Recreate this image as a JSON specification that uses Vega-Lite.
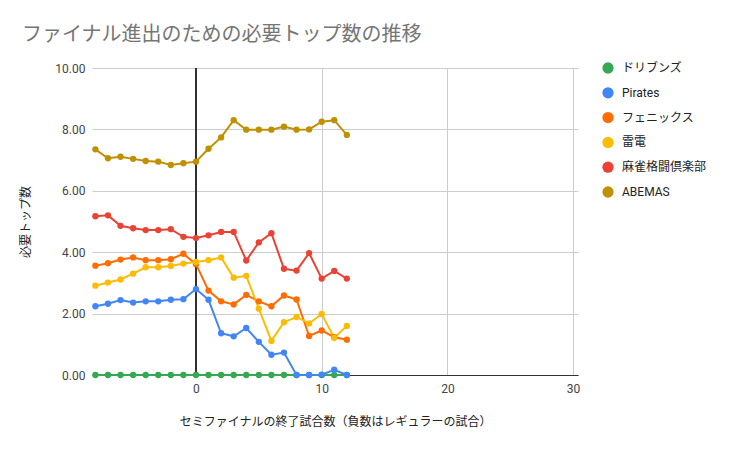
{
  "$schema": "https://vega.github.io/schema/vega-lite/v6.json",
  "autosize": {"type": "none"},
  "padding": {"left": 92, "top": 68, "right": 151, "bottom": 75},
  "width": 486,
  "height": 307,
  "background": "white",
  "config": {
    "font": "Roboto, 'Noto Sans CJK JP', sans-serif",
    "view": {"stroke": null},
    "axisX": {"grid": true, "gridColor": "#cccccc"}
  },
  "title": {
    "text": "ファイナル進出のための必要トップ数の推移",
    "anchor": "start",
    "frame": "group",
    "dx": -70,
    "offset": 17,
    "fontSize": 20,
    "fontWeight": "normal",
    "color": "#757575",
    "font": "Roboto, 'Noto Sans CJK JP', sans-serif"
  },
  "data": {
    "values": [
      {"x": -8, "t": "ドリブンズ", "v": 0}, {"x": -7, "t": "ドリブンズ", "v": 0}, {"x": -6, "t": "ドリブンズ", "v": 0}, {"x": -5, "t": "ドリブンズ", "v": 0}, {"x": -4, "t": "ドリブンズ", "v": 0}, {"x": -3, "t": "ドリブンズ", "v": 0}, {"x": -2, "t": "ドリブンズ", "v": 0}, {"x": -1, "t": "ドリブンズ", "v": 0}, {"x": 0, "t": "ドリブンズ", "v": 0}, {"x": 1, "t": "ドリブンズ", "v": 0}, {"x": 2, "t": "ドリブンズ", "v": 0}, {"x": 3, "t": "ドリブンズ", "v": 0}, {"x": 4, "t": "ドリブンズ", "v": 0}, {"x": 5, "t": "ドリブンズ", "v": 0}, {"x": 6, "t": "ドリブンズ", "v": 0}, {"x": 7, "t": "ドリブンズ", "v": 0}, {"x": 8, "t": "ドリブンズ", "v": 0}, {"x": 9, "t": "ドリブンズ", "v": 0}, {"x": 10, "t": "ドリブンズ", "v": 0}, {"x": 11, "t": "ドリブンズ", "v": 0}, {"x": 12, "t": "ドリブンズ", "v": 0},
      {"x": -8, "t": "Pirates", "v": 2.24}, {"x": -7, "t": "Pirates", "v": 2.32}, {"x": -6, "t": "Pirates", "v": 2.44}, {"x": -5, "t": "Pirates", "v": 2.36}, {"x": -4, "t": "Pirates", "v": 2.40}, {"x": -3, "t": "Pirates", "v": 2.40}, {"x": -2, "t": "Pirates", "v": 2.45}, {"x": -1, "t": "Pirates", "v": 2.47}, {"x": 0, "t": "Pirates", "v": 2.80}, {"x": 1, "t": "Pirates", "v": 2.45}, {"x": 2, "t": "Pirates", "v": 1.36}, {"x": 3, "t": "Pirates", "v": 1.26}, {"x": 4, "t": "Pirates", "v": 1.53}, {"x": 5, "t": "Pirates", "v": 1.08}, {"x": 6, "t": "Pirates", "v": 0.66}, {"x": 7, "t": "Pirates", "v": 0.73}, {"x": 8, "t": "Pirates", "v": 0}, {"x": 9, "t": "Pirates", "v": 0}, {"x": 10, "t": "Pirates", "v": 0.01}, {"x": 11, "t": "Pirates", "v": 0.17}, {"x": 12, "t": "Pirates", "v": 0},
      {"x": -8, "t": "フェニックス", "v": 3.56}, {"x": -7, "t": "フェニックス", "v": 3.64}, {"x": -6, "t": "フェニックス", "v": 3.76}, {"x": -5, "t": "フェニックス", "v": 3.83}, {"x": -4, "t": "フェニックス", "v": 3.74}, {"x": -3, "t": "フェニックス", "v": 3.74}, {"x": -2, "t": "フェニックス", "v": 3.77}, {"x": -1, "t": "フェニックス", "v": 3.95}, {"x": 0, "t": "フェニックス", "v": 3.61}, {"x": 1, "t": "フェニックス", "v": 2.75}, {"x": 2, "t": "フェニックス", "v": 2.40}, {"x": 3, "t": "フェニックス", "v": 2.30}, {"x": 4, "t": "フェニックス", "v": 2.61}, {"x": 5, "t": "フェニックス", "v": 2.40}, {"x": 6, "t": "フェニックス", "v": 2.24}, {"x": 7, "t": "フェニックス", "v": 2.59}, {"x": 8, "t": "フェニックス", "v": 2.46}, {"x": 9, "t": "フェニックス", "v": 1.27}, {"x": 10, "t": "フェニックス", "v": 1.45}, {"x": 11, "t": "フェニックス", "v": 1.23}, {"x": 12, "t": "フェニックス", "v": 1.15},
      {"x": -8, "t": "雷電", "v": 2.91}, {"x": -7, "t": "雷電", "v": 3.01}, {"x": -6, "t": "雷電", "v": 3.11}, {"x": -5, "t": "雷電", "v": 3.30}, {"x": -4, "t": "雷電", "v": 3.51}, {"x": -3, "t": "雷電", "v": 3.51}, {"x": -2, "t": "雷電", "v": 3.55}, {"x": -1, "t": "雷電", "v": 3.63}, {"x": 0, "t": "雷電", "v": 3.68}, {"x": 1, "t": "雷電", "v": 3.74}, {"x": 2, "t": "雷電", "v": 3.83}, {"x": 3, "t": "雷電", "v": 3.17}, {"x": 4, "t": "雷電", "v": 3.23}, {"x": 5, "t": "雷電", "v": 2.16}, {"x": 6, "t": "雷電", "v": 1.11}, {"x": 7, "t": "雷電", "v": 1.72}, {"x": 8, "t": "雷電", "v": 1.89}, {"x": 9, "t": "雷電", "v": 1.68}, {"x": 10, "t": "雷電", "v": 1.99}, {"x": 11, "t": "雷電", "v": 1.21}, {"x": 12, "t": "雷電", "v": 1.60},
      {"x": -8, "t": "麻雀格闘倶楽部", "v": 5.17}, {"x": -7, "t": "麻雀格闘倶楽部", "v": 5.20}, {"x": -6, "t": "麻雀格闘倶楽部", "v": 4.86}, {"x": -5, "t": "麻雀格闘倶楽部", "v": 4.78}, {"x": -4, "t": "麻雀格闘倶楽部", "v": 4.72}, {"x": -3, "t": "麻雀格闘倶楽部", "v": 4.72}, {"x": -2, "t": "麻雀格闘倶楽部", "v": 4.75}, {"x": -1, "t": "麻雀格闘倶楽部", "v": 4.50}, {"x": 0, "t": "麻雀格闘倶楽部", "v": 4.46}, {"x": 1, "t": "麻雀格闘倶楽部", "v": 4.55}, {"x": 2, "t": "麻雀格闘倶楽部", "v": 4.66}, {"x": 3, "t": "麻雀格闘倶楽部", "v": 4.66}, {"x": 4, "t": "麻雀格闘倶楽部", "v": 3.73}, {"x": 5, "t": "麻雀格闘倶楽部", "v": 4.32}, {"x": 6, "t": "麻雀格闘倶楽部", "v": 4.62}, {"x": 7, "t": "麻雀格闘倶楽部", "v": 3.46}, {"x": 8, "t": "麻雀格闘倶楽部", "v": 3.40}, {"x": 9, "t": "麻雀格闘倶楽部", "v": 3.97}, {"x": 10, "t": "麻雀格闘倶楽部", "v": 3.14}, {"x": 11, "t": "麻雀格闘倶楽部", "v": 3.39}, {"x": 12, "t": "麻雀格闘倶楽部", "v": 3.14},
      {"x": -8, "t": "ABEMAS", "v": 7.35}, {"x": -7, "t": "ABEMAS", "v": 7.06}, {"x": -6, "t": "ABEMAS", "v": 7.11}, {"x": -5, "t": "ABEMAS", "v": 7.04}, {"x": -4, "t": "ABEMAS", "v": 6.97}, {"x": -3, "t": "ABEMAS", "v": 6.95}, {"x": -2, "t": "ABEMAS", "v": 6.84}, {"x": -1, "t": "ABEMAS", "v": 6.90}, {"x": 0, "t": "ABEMAS", "v": 6.95}, {"x": 1, "t": "ABEMAS", "v": 7.37}, {"x": 2, "t": "ABEMAS", "v": 7.74}, {"x": 3, "t": "ABEMAS", "v": 8.30}, {"x": 4, "t": "ABEMAS", "v": 7.99}, {"x": 5, "t": "ABEMAS", "v": 7.99}, {"x": 6, "t": "ABEMAS", "v": 7.99}, {"x": 7, "t": "ABEMAS", "v": 8.09}, {"x": 8, "t": "ABEMAS", "v": 7.99}, {"x": 9, "t": "ABEMAS", "v": 8.00}, {"x": 10, "t": "ABEMAS", "v": 8.25}, {"x": 11, "t": "ABEMAS", "v": 8.30}, {"x": 12, "t": "ABEMAS", "v": 7.82}
    ]
  },
  "layer": [
    {
      "mark": {"type": "rule", "color": "#333333", "strokeWidth": 1},
      "encoding": {
        "x": {
          "datum": 0,
          "type": "quantitative",
          "scale": {"domain": [-8.27, 30.39], "nice": false, "zero": false},
          "axis": {
            "values": [0, 10, 20, 30],
            "grid": true,
            "title": "セミファイナルの終了試合数（負数はレギュラーの試合）",
            "titleFontSize": 12,
            "titleFontWeight": "normal",
            "titleColor": "#222222",
            "titlePadding": 22,
            "labelFontSize": 12,
            "labelColor": "#444444",
            "labelPadding": 8,
            "ticks": false,
            "domainColor": "#333333",
            "gridColor": "#cccccc",
            "labelFlush": false
          }
        }
      }
    },
    {
      "mark": {"type": "line", "strokeWidth": 2, "point": {"filled": true, "size": 40}},
      "encoding": {
        "x": {
          "field": "x",
          "type": "quantitative",
          "scale": {"domain": [-8.27, 30.39], "nice": false, "zero": false},
          "axis": {
            "values": [0, 10, 20, 30],
            "grid": true,
            "title": "セミファイナルの終了試合数（負数はレギュラーの試合）",
            "titleFontSize": 12,
            "titleFontWeight": "normal",
            "titleColor": "#222222",
            "titlePadding": 22,
            "labelFontSize": 12,
            "labelColor": "#444444",
            "labelPadding": 8,
            "ticks": false,
            "domainColor": "#333333",
            "gridColor": "#cccccc",
            "labelFlush": false
          }
        },
        "y": {
          "field": "v",
          "type": "quantitative",
          "scale": {"domain": [0, 10], "nice": false},
          "axis": {
            "values": [0, 2, 4, 6, 8, 10],
            "format": ".2f",
            "title": "必要トップ数",
            "titleFontSize": 12,
            "titleFontWeight": "normal",
            "titleColor": "#222222",
            "titlePadding": 22,
            "labelFontSize": 12,
            "labelColor": "#444444",
            "labelPadding": 7,
            "ticks": false,
            "domain": false,
            "gridColor": "#cccccc"
          }
        },
        "color": {
          "field": "t",
          "type": "nominal",
          "sort": ["ドリブンズ", "Pirates", "フェニックス", "雷電", "麻雀格闘倶楽部", "ABEMAS"],
          "scale": {
            "domain": ["ドリブンズ", "Pirates", "フェニックス", "雷電", "麻雀格闘倶楽部", "ABEMAS"],
            "range": ["#34a853", "#4285f4", "#ff6d01", "#fbbc04", "#ea4335", "#bf9000"]
          },
          "legend": {
            "title": null,
            "orient": "none",
            "legendX": 510,
            "legendY": -6,
            "padding": 0,
            "symbolType": "circle",
            "symbolSize": 127,
            "symbolStrokeWidth": 0,
            "labelFontSize": 12,
            "labelColor": "#222222",
            "labelOffset": 8,
            "rowPadding": 12.8
          }
        },
        "order": {"field": "x"}
      }
    }
  ]
}
